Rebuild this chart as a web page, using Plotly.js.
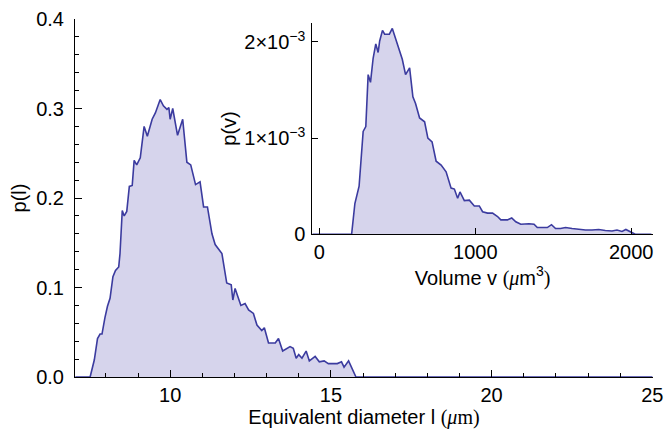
<!DOCTYPE html>
<html><head><meta charset="utf-8">
<script src="https://cdn.plot.ly/plotly-3.0.1.min.js"></script>
<style>html,body{margin:0;padding:0;background:#fff}</style>
</head><body><div id="chart" style="width:669px;height:430px"></div>
<script>
// Main: equivalent diameter distribution p(l)
const diamL = [7.05,7.51,7.64,7.74,7.82,7.88,7.97,8.05,8.13,8.22,8.30,8.40,8.44,8.51,8.57,8.65,8.73,8.82,8.88,8.96,9.07,9.19,9.29,9.44,9.54,9.69,9.79,9.90,9.96,10.0,10.08,10.23,10.39,10.52,10.64,10.79,10.93,11.04,11.16,11.30,11.40,11.61,11.76,11.90,11.95,12.02,12.20,12.33,12.44,12.59,12.70,12.85,12.93,13.06,13.27,13.37,13.50,13.73,13.83,13.92,14.00,14.10,14.23,14.33,14.51,14.64,14.79,14.92,15.07,15.20,15.33,15.41,15.55,15.65,15.78,25.0];
const probL = [0,0,0.019,0.043,0.048,0.048,0.066,0.079,0.088,0.112,0.119,0.123,0.138,0.186,0.180,0.185,0.213,0.214,0.242,0.237,0.245,0.280,0.269,0.288,0.295,0.310,0.303,0.299,0.301,0.288,0.300,0.270,0.288,0.240,0.237,0.215,0.218,0.190,0.190,0.160,0.148,0.138,0.105,0.103,0.086,0.099,0.080,0.082,0.075,0.071,0.058,0.052,0.055,0.038,0.038,0.043,0.029,0.034,0.032,0.021,0.025,0.021,0.029,0.018,0.023,0.017,0.018,0.015,0.015,0.015,0.017,0.011,0.018,0.010,0,0];

// Inset: volume distribution p(v) (values in units of 1e-3)
const volV = [-45,207,228,243,255,281,298,313,328,345,362,377,387,405,419,432,449,468,483,498,515,532,553,579,600,617,643,675,696,723,749,781,813,845,866,887,902,930,962,994,1026,1047,1079,1111,1143,1164,1207,1234,1260,1292,1345,1377,1398,1434,1462,1489,1515,1547,1579,1621,1664,1707,1749,1792,1834,1877,1909,1941,1966,1994,2026,2130];
const probV = [0,0,0.32,0.44,0.50,1.07,1.12,1.66,1.58,1.83,1.98,1.89,2.01,2.12,2.08,2.08,2.08,2.14,2.06,1.99,1.89,1.82,1.66,1.73,1.43,1.36,1.21,1.17,1.00,0.96,0.76,0.72,0.65,0.48,0.47,0.375,0.44,0.35,0.355,0.295,0.295,0.235,0.22,0.22,0.185,0.15,0.15,0.17,0.13,0.105,0.11,0.105,0.07,0.07,0.07,0.10,0.06,0.06,0.07,0.06,0.05,0.045,0.045,0.05,0.04,0.035,0.045,0.03,0.05,0.03,0,0];

const lineCol = '#3b3b9f';
const fillCol = 'rgba(214,212,236,1)';
const fnt = {family: 'Liberation Sans, Arial, Helvetica, sans-serif', size: 20, color: '#000'};

const traces = [
  {x: diamL, y: probL, type: 'scatter', mode: 'lines', fill: 'tozeroy',
   fillcolor: fillCol, line: {color: lineCol, width: 1.6}, xaxis: 'x', yaxis: 'y', hoverinfo: 'skip'},
  {x: volV, y: probV.map(v => v * 1e-3), type: 'scatter', mode: 'lines', fill: 'tozeroy',
   fillcolor: fillCol, line: {color: lineCol, width: 1.6}, xaxis: 'x2', yaxis: 'y2', hoverinfo: 'skip'}
];

const axCommon = {showgrid: false, zeroline: false, showline: true, linecolor: '#000', linewidth: 1,
  ticks: 'inside', ticklen: 7, tickwidth: 1, tickcolor: '#000', tickfont: fnt, mirror: false};

const serif = 'font-family:Liberation Serif,Times New Roman,serif';

const layout = {
  width: 669, height: 430,
  margin: {l: 75, r: 16, t: 19, b: 53},
  paper_bgcolor: '#fff', plot_bgcolor: 'rgba(0,0,0,0)',
  showlegend: false,
  font: fnt,
  xaxis: Object.assign({}, axCommon, {
    domain: [0, 1], range: [7.04, 25.02], tickvals: [10, 15, 20, 25],
    minor: {ticks: 'inside', ticklen: 4, dtick: 1, tick0: 0, tickcolor: '#000'},
    ticklabelstandoff: 0,
    title: {text: 'Equivalent diameter l <span style="' + serif + '">(<i>μ</i>m)</span>', font: fnt, standoff: 0}
  }),
  yaxis: Object.assign({}, axCommon, {
    domain: [0, 1], range: [0, 0.4], tickvals: [0, 0.1, 0.2, 0.3, 0.4], ticktext: ['0.0','0.1','0.2','0.3','0.4'],
    minor: {ticks: 'inside', ticklen: 4, dtick: 0.02, tick0: 0, tickcolor: '#000'},
    ticklabelstandoff: 6,
    title: {text: 'p(l)', font: fnt, standoff: 4}
  }),
  xaxis2: Object.assign({}, axCommon, {
    domain: [0.4106, 1], range: [-45, 2140], anchor: 'y2', tickvals: [0, 1000, 2000],
    ticklen: 6, ticklabelstandoff: 0,
    title: {text: 'Volume v <span style="' + serif + '">(<i>μ</i></span>m<sup>3</sup><span style="' + serif + '">)</span>', font: fnt, standoff: 4}
  }),
  yaxis2: Object.assign({}, axCommon, {
    domain: [0.3986, 0.9897], range: [0, 0.0022], anchor: 'x2',
    tickvals: [0, 0.001, 0.002], ticktext: ['0', '1×10<sup>−3</sup>', '2×10<sup>−3</sup>'],
    ticklen: 6, ticklabelstandoff: 2,
    title: {text: 'p(v)', font: fnt, standoff: 2}
  })
};

Plotly.newPlot('chart', traces, layout, {staticPlot: true, displayModeBar: false});
</script></body></html>
